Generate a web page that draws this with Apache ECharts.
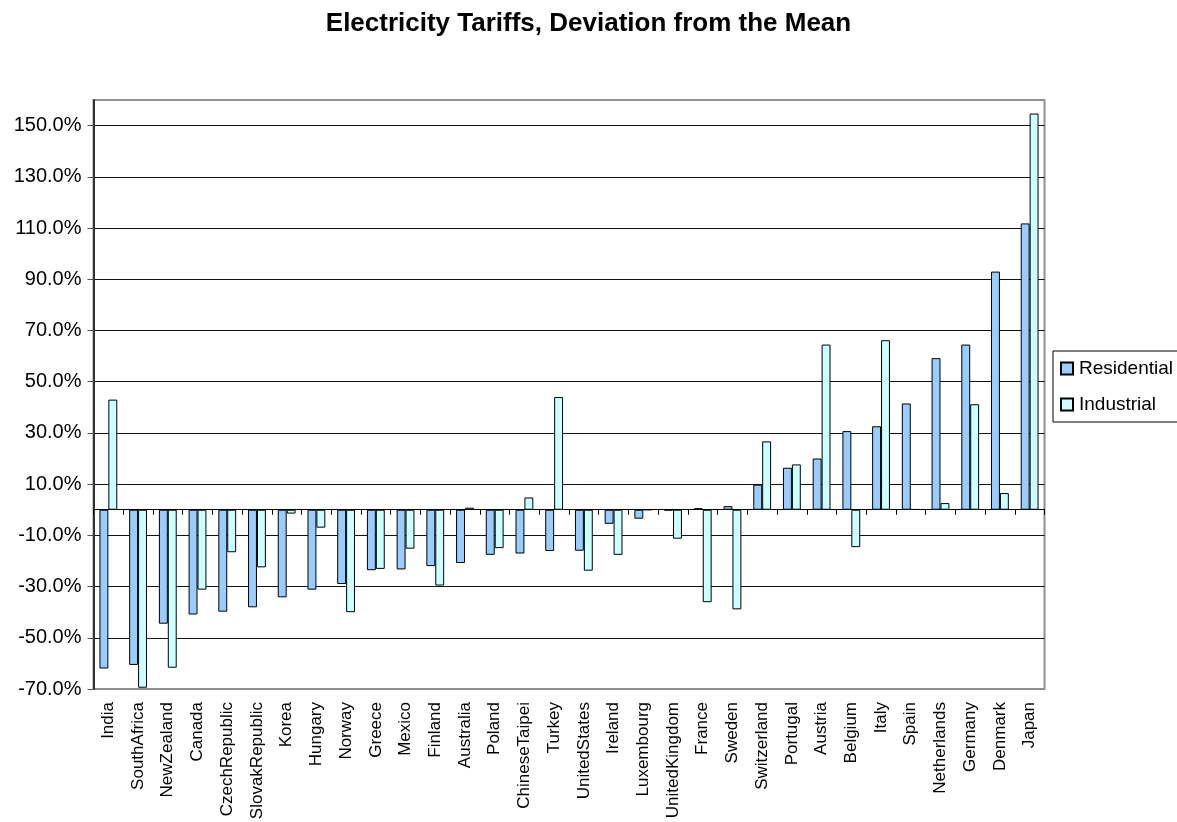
<!DOCTYPE html>
<html>
<head>
<meta charset="utf-8">
<script src="https://cdn.jsdelivr.net/npm/echarts@6/dist/echarts.min.js"></script>
<style>
html,body{margin:0;padding:0;background:#fff;}
#chart{width:1177px;height:822px;}
</style>
</head>
<body>
<div id="chart"></div>
<script>
var titleText = 'Electricity Tariffs, Deviation from the Mean';
var categories = ['India','SouthAfrica','NewZealand','Canada','CzechRepublic','SlovakRepublic','Korea','Hungary','Norway','Greece','Mexico','Finland','Australia','Poland','ChineseTaipei','Turkey','UnitedStates','Ireland','Luxembourg','UnitedKingdom','France','Sweden','Switzerland','Portugal','Austria','Belgium','Italy','Spain','Netherlands','Germany','Denmark','Japan'];
var residential = [-62.0,-60.6,-44.5,-40.9,-39.8,-38.1,-34.2,-31.2,-29.0,-23.6,-23.3,-22.0,-20.8,-17.6,-17.1,-16.1,-16.0,-5.5,-3.5,-0.3,0.6,1.4,9.8,16.4,20.0,30.7,32.6,41.5,59.2,64.5,93.0,111.8];
var industrial = [43.0,-69.5,-61.7,-31.2,-16.6,-22.5,-1.5,-7.0,-40.0,-23.1,-15.2,-29.6,0.8,-15.0,4.8,44.0,-23.8,-17.6,0.0,-11.3,-36.1,-38.9,26.7,17.7,64.5,-14.6,66.2,0.2,2.6,41.2,6.5,154.7];
var seriesNames = ['Residential','Industrial'];
var yMin = -70, yMax = 160, yStep = 20;

var font = 'Liberation Sans, Arial, sans-serif';
var gridLineColors = ['#909090'];
for (var i = 0; i < 11; i++) gridLineColors.push('#111');
gridLineColors.push('#909090');

var chart = echarts.init(document.getElementById('chart'), null, {renderer: 'canvas'});
chart.setOption({
  backgroundColor: '#fff',
  animation: false,
  title: {
    text: titleText,
    left: 'center',
    top: 11,
    padding: 0,
    textStyle: {fontFamily: font, fontSize: 26, fontWeight: 'bold', color: '#000', lineHeight: 26}
  },
  legend: {
    orient: 'vertical',
    left: 1053,
    top: 351,
    padding: [8, 10, 8, 7],
    itemWidth: 12,
    itemHeight: 12,
    itemGap: 17,
    icon: 'rect',
    borderColor: '#000',
    borderWidth: 1,
    borderRadius: 0,
    backgroundColor: 'transparent',
    textStyle: {fontFamily: font, fontSize: 19, color: '#000', padding: [0,0,0,1]},
    data: seriesNames
  },
  grid: {
    left: 93.5, right: 132.5, top: 100, bottom: 133,
    show: true, borderColor: '#909090', borderWidth: 2,
    containLabel: false,
    outerBoundsMode: 'none'
  },
  xAxis: [{
    type: 'category',
    data: categories,
    position: 'bottom',
    boundaryGap: true,
    axisLine: {show: false, onZero: false},
    axisTick: {show: false},
    splitLine: {show: false},
    axisLabel: {rotate: 90, margin: 13, interval: 0, fontFamily: font, fontSize: 17, color: '#000'}
  }, {
    type: 'category',
    data: categories,
    position: 'bottom',
    boundaryGap: true,
    axisLine: {show: true, onZero: true, lineStyle: {color: '#000', width: 1}},
    axisTick: {show: true, inside: false, length: 5, interval: 0, lineStyle: {color: '#000', width: 1}},
    axisLabel: {show: false},
    splitLine: {show: false}
  }],
  yAxis: {
    type: 'value',
    min: yMin, max: yMax, interval: yStep,
    axisLine: {show: true, lineStyle: {color: '#333', width: 2}},
    axisTick: {show: true, inside: false, length: 6, lineStyle: {color: '#555', width: 1}},
    splitLine: {show: true, lineStyle: {color: gridLineColors, width: 1}},
    axisLabel: {
      margin: 12, showMaxLabel: false, fontFamily: font, fontSize: 20, color: '#000',
      formatter: function (v) { return v.toFixed(1) + '%'; }
    }
  },
  series: [{
    name: seriesNames[0],
    type: 'bar',
    xAxisIndex: 0,
    data: residential,
    barGap: '0%',
    barCategoryGap: '40%',
    itemStyle: {color: '#99CCFF', borderColor: '#000', borderWidth: 1}
  }, {
    name: seriesNames[1],
    type: 'bar',
    xAxisIndex: 0,
    data: industrial,
    barGap: '0%',
    barCategoryGap: '40%',
    itemStyle: {color: '#CCFFFF', borderColor: '#000', borderWidth: 1}
  }]
});
</script>
</body>
</html>
